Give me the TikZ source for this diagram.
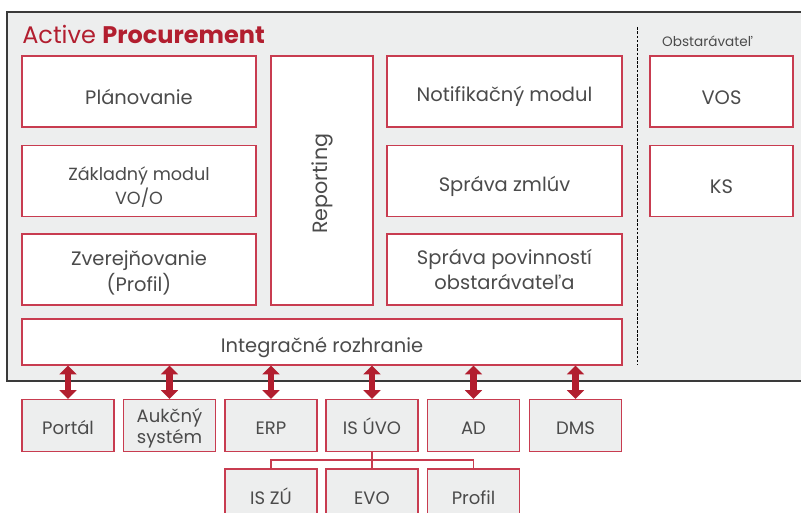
\documentclass[tikz,border=0pt]{standalone}
\usepackage{fontspec}
\setmainfont{Poppins}
\usepackage{xcolor}
\usetikzlibrary{arrows.meta}

\definecolor{apred}{RGB}{178,30,47}
\definecolor{boxred}{RGB}{200,60,80}
\definecolor{apgray}{RGB}{237,238,238}
\definecolor{aptext}{RGB}{75,75,75}

\newcommand{\lowstrut}[1]{\rule{0pt}{#1}}

\tikzset{
  padtop/.style={execute at begin node={\lowstrut{#1}}},
  modbox/.style={draw=boxred, fill=white, line width=0.9, text=aptext, align=center, inner sep=0pt},
  onebox/.style={modbox, padtop=1.3em},
  sysbox/.style={draw=boxred, fill=apgray, line width=0.9, text=aptext, align=center, inner sep=0pt,
    minimum width=92*0.75pt, minimum height=52*0.75pt, font=\fontsize{13.5}{15.8}\selectfont},
  bigtxt/.style={font=\fontsize{14.6}{19}\selectfont},
  smalltxt/.style={font=\fontsize{13.2}{18}\selectfont},
  dblarrow/.style={apred, line width=5.2, {Triangle[width=12.5pt,length=6.5pt]}-{Triangle[width=12.5pt,length=6.5pt]}},
}

\begin{document}
\begin{tikzpicture}[x=0.75pt,y=0.75pt,yscale=-1,xscale=1]
\useasboundingbox (0,0) rectangle (801,513);

%Outer frame
\draw [draw={rgb, 255:red, 58; green, 58; blue, 58 }, fill=apgray, line width=0.9] (7,12) rectangle (820,381);
%Dashed separator
\draw [dash pattern={on 2pt off 1.2pt}, line width=0.6] (637,27) -- (637,365);

% Title
\node (title) [anchor=west, inner sep=0pt, text=apred, font=\fontsize{18}{20}\selectfont] at (22,34) {Active \textbf{Procurement}};
\node (obst) [inner sep=0pt, text=aptext, font=\fontsize{10.2}{13}\selectfont] at (707.5,41) {Obstarávateľ};

% Modules
\node (plan)  [onebox, bigtxt, minimum width=234*0.75pt, minimum height=71*0.75pt] at (139,91.5) {Plánovanie};
\node (zakl)  [modbox, smalltxt, minimum width=234*0.75pt, minimum height=71*0.75pt] at (139,181) {\lowstrut{1.45em}Základný modul\\VO/O};
\node (zver)  [modbox, bigtxt, minimum width=234*0.75pt, minimum height=71*0.75pt] at (139,269.5) {\lowstrut{1.1em}Zverejňovanie\\(Profil)};
\node (rep)   [draw=boxred, fill=white, line width=0.9, text=aptext, inner sep=0pt, font=\fontsize{15.5}{19}\selectfont, minimum width=102*0.75pt, minimum height=249*0.75pt] at (322,180.5) {\rotatebox{90}{\raisebox{-4pt}{Reporting}\hspace{5pt}}};
\node (notif) [onebox, bigtxt, minimum width=235*0.75pt, minimum height=71*0.75pt] at (504.5,91.5) {Notifikačný modul};
\node (sprz)  [onebox, bigtxt, minimum width=235*0.75pt, minimum height=71*0.75pt] at (504.5,181) {Správa zmlúv};
\node (sprp)  [modbox, bigtxt, minimum width=235*0.75pt, minimum height=71*0.75pt] at (504.5,269.5) {Správa povinností\\obstarávateľa};
\node (integ) [onebox, bigtxt, minimum width=600*0.75pt, minimum height=46*0.75pt] at (322,342) {Integračné rozhranie};
\node (vos)   [onebox, bigtxt, minimum width=143*0.75pt, minimum height=71*0.75pt] at (721.5,91.5) {VOS};
\node (ks)    [onebox, bigtxt, minimum width=143*0.75pt, minimum height=71*0.75pt] at (721.5,181) {KS};

% External systems
\node (portal) [sysbox, padtop=1.05em] at (68,425.5) {Portál};
\node (aukc)   [sysbox] at (169.5,425.5) {\lowstrut{1.08em}Aukčný\\systém};
\node (erp)    [sysbox, padtop=1.05em] at (271,425.5) {ERP};
\node (isuvo)  [sysbox, padtop=1.05em] at (372,425.5) {IS ÚVO};
\node (ad)     [sysbox, padtop=1.05em] at (473.5,425.5) {AD};
\node (dms)    [sysbox, padtop=1.05em] at (575.5,425.5) {DMS};
\node (iszu)   [sysbox, padtop=1.05em] at (271,495) {IS ZÚ};
\node (evo)    [sysbox, padtop=1.05em] at (372,495) {EVO};
\node (profil) [sysbox, padtop=1.05em] at (473.5,495) {Profil};

% Links to the interface
\foreach \s in {portal,aukc,erp,isuvo,ad,dms}
  \draw [dblarrow] (\s.north) -- (\s.north |- integ.south);

% IS UVO subsystems
\coordinate (split) at (372,460);
\draw [boxred, line width=0.9] (isuvo.south) -- (evo.north);
\draw [boxred, line width=0.9] (iszu.north) |- (split) -| (profil.north);

\end{tikzpicture}
\end{document}
